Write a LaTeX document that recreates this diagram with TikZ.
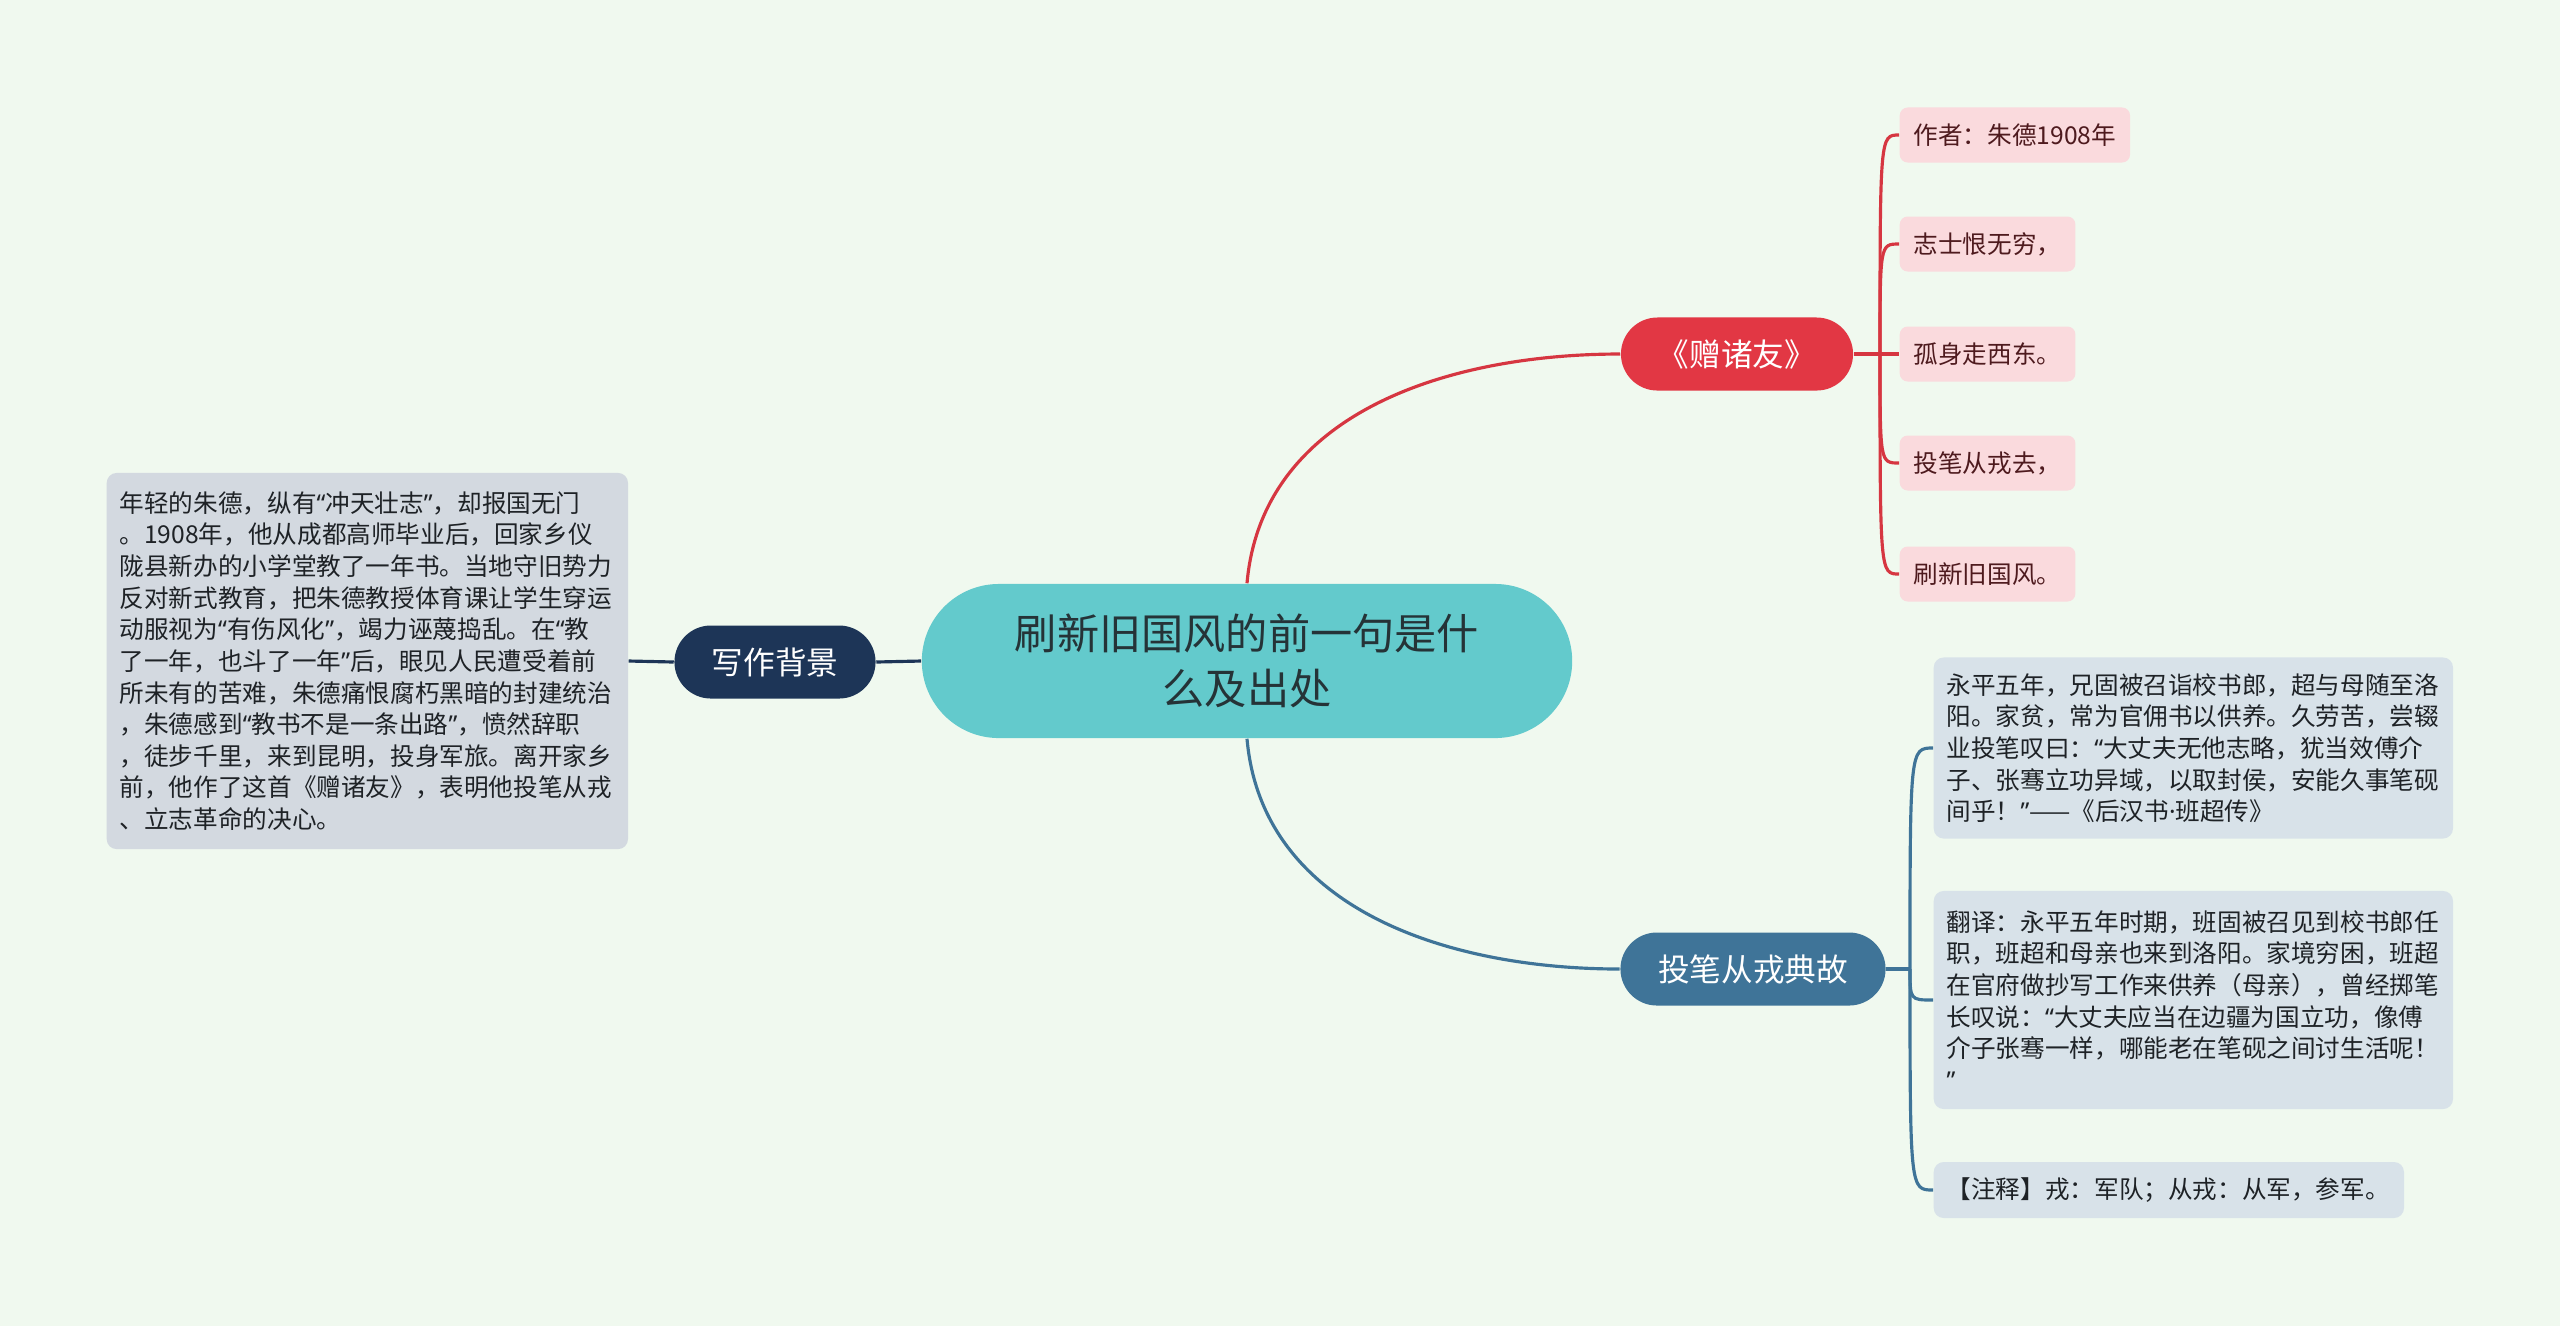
\documentclass[tikz,border=0pt]{standalone}
\usepackage{fontspec}
\newfontfamily\cjk{Noto Sans CJK SC}
\newfontfamily\qf{Noto Sans}
\newcommand\ka{{\qf “}}
\newcommand\kb{{\qf ”}}
\newcommand\titik{{\qf ·}}
\definecolor{latar}{HTML}{F0F9EF}
\definecolor{tosca}{HTML}{63CACC}
\definecolor{navy}{HTML}{1D3557}
\definecolor{merah}{HTML}{E23744}
\definecolor{garismerah}{HTML}{D63641}
\definecolor{pink}{HTML}{FADADD}
\definecolor{teksmerah}{HTML}{4E1A1E}
\definecolor{baja}{HTML}{3F7498}
\definecolor{kotakbiru}{HTML}{D8E2E9}
\definecolor{kotakabu}{HTML}{D3D9E0}
\definecolor{teks}{HTML}{1E2226}
\begin{document}
\begin{tikzpicture}[x=0.01cm,y=-0.01cm,
    akar/.style={fill=tosca, text=teks!90!tosca, minimum width=6.5cm, minimum height=1.54cm,
      rounded corners=0.77cm, align=center, font=\cjk\fontsize{12pt}{15.6pt}\selectfont},
    cabang/.style={minimum height=0.73cm, rounded corners=0.365cm, text=white,
      font=\cjk\fontsize{9pt}{11pt}\selectfont},
    daun/.style={fill=pink, text=teksmerah, anchor=west, minimum height=0.55cm, inner xsep=0.14cm,
      rounded corners=0.08cm, font=\cjk\fontsize{7pt}{9pt}\selectfont},
    catatan/.style={fill=kotakbiru, text=teks, anchor=west, inner xsep=0.13cm, align=left,
      rounded corners=0.1cm, font=\cjk\fontsize{7pt}{9pt}\selectfont},
    garis/.style={line width=0.9pt}]
    % Latar
    \fill[latar] (0,0) rectangle (2560,1326);
    % Pusat
    \node[akar] (root) at (1247,661) {刷新旧国风的前一句是什\\么及出处};
    % Cabang kiri
    \node[cabang, fill=navy, minimum width=2.01cm] (bg) at (775,662) {写作背景};
    \node[catatan, fill=kotakabu, text width=4.95cm, minimum height=3.76cm] (bgtext) at (106,661)
      {年轻的朱德，纵有\ka 冲天壮志\kb，却报国无门\\
       。1908年，他从成都高师毕业后，回家乡仪\\
       陇县新办的小学堂教了一年书。当地守旧势力\\
       反对新式教育，把朱德教授体育课让学生穿运\\
       动服视为\ka 有伤风化\kb，竭力诬蔑捣乱。在\ka 教\\
       了一年，也斗了一年\kb 后，眼见人民遭受着前\\
       所未有的苦难，朱德痛恨腐朽黑暗的封建统治\\
       ，朱德感到\ka 教书不是一条出路\kb，愤然辞职\\
       ，徒步千里，来到昆明，投身军旅。离开家乡\\
       前，他作了这首《赠诸友》，表明他投笔从戎\\
       、立志革命的决心。};
    \draw[garis, navy] (root.west) -- (bg.east);
    \draw[garis, navy] (bg.west) -- (bgtext.east);
    % Cabang atas
    \node[cabang, fill=merah, minimum width=2.32cm] (poem) at (1737,354) {《赠诸友》};
    \node[daun] (l1) at (1899,135) {作者：朱德1908年};
    \node[daun] (l2) at (1899,244) {志士恨无穷，};
    \node[daun] (l3) at (1899,354) {孤身走西东。};
    \node[daun] (l4) at (1899,463) {投笔从戎去，};
    \node[daun] (l5) at (1899,574) {刷新旧国风。};
    \draw[garis, garismerah] (root.north) to[out=85,in=180] (poem.west);
    \coordinate (pj) at (1880,354);
    \draw[garis, garismerah] (poem.east) -- (pj) -- (l3.west);
    \foreach \n in {l1,l2,l4,l5}
      \draw[garis, garismerah] (pj) .. controls (pj |- \n.west) .. (\n.west);
    % Cabang bawah
    \node[cabang, fill=baja, minimum width=2.65cm] (story) at (1753,969) {投笔从戎典故};
    \node[catatan, text width=4.93cm, minimum height=1.81cm] (b1) at (1933,748)
      {永平五年，兄固被召诣校书郎，超与母随至洛\\
       阳。家贫，常为官佣书以供养。久劳苦，尝辍\\
       业投笔叹曰：\ka 大丈夫无他志略，犹当效傅介\\
       子、张骞立功异域，以取封侯，安能久事笔砚\\
       间乎！\kb——《后汉书\titik 班超传》};
    \node[catatan, text width=4.93cm, minimum height=2.18cm] (b2) at (1933,1000)
      {翻译：永平五年时期，班固被召见到校书郎任\\
       职，班超和母亲也来到洛阳。家境穷困，班超\\
       在官府做抄写工作来供养（母亲），曾经掷笔\\
       长叹说：\ka 大丈夫应当在边疆为国立功，像傅\\
       介子张骞一样，哪能老在笔砚之间讨生活呢！\\
       \kb};
    \node[catatan, text width=4.44cm, minimum height=0.56cm] (b3) at (1933,1190)
      {【注释】戎：军队；从戎：从军，参军。};
    \draw[garis, baja] (root.south) to[out=-85,in=180] (story.west);
    \coordinate (sj) at (1910,969);
    \draw[garis, baja] (story.east) -- (sj);
    \foreach \n in {b1,b2,b3}
      \draw[garis, baja] (sj) .. controls (sj |- \n.west) .. (\n.west);
\end{tikzpicture}
\end{document}
